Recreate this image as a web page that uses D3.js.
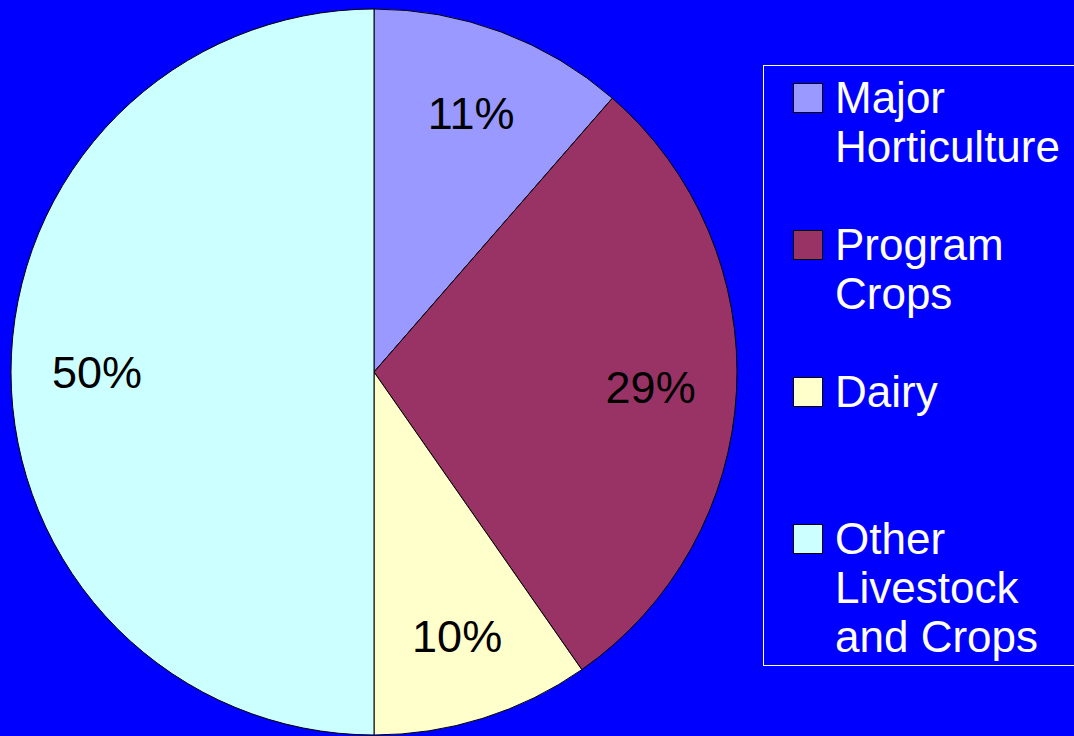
<!DOCTYPE html>
<html>
<head>
<meta charset="utf-8">
<script src="https://cdn.jsdelivr.net/npm/d3@7"></script>
<style>
  html, body { margin: 0; padding: 0; background: #0000ff; overflow: hidden; }
  svg { display: block; }
</style>
</head>
<body>
<div id="chart"></div>
<script>
var svgWidth = 1074;
var svgHeight = 736;

// Data
var categories = ["Major Horticulture", "Program Crops", "Dairy", "Other Livestock and Crops"];
var legendLines = [["Major", "Horticulture"], ["Program", "Crops"], ["Dairy"], ["Other", "Livestock", "and Crops"]];
var shares = [11.4, 28.9, 9.7, 50.0];
var sliceColors = ["#9999ff", "#993366", "#ffffcc", "#ccffff"];

var cx = 374, cy = 372, radius = 363;
var labelRadius = 277;

var svg = d3.select("#chart")
  .append("svg")
  .attr("width", svgWidth)
  .attr("height", svgHeight);

svg.append("rect")
  .attr("width", svgWidth)
  .attr("height", svgHeight)
  .attr("fill", "#0000ff");

var data = categories.map(function(c, i) {
  return { name: c, value: shares[i], lines: legendLines[i] };
});

var color = d3.scaleOrdinal()
  .domain(categories)
  .range(sliceColors);

var pie = d3.pie()
  .sort(null)
  .value(d => d.value);

var arc = d3.arc()
  .innerRadius(0)
  .outerRadius(radius);

var labelArc = d3.arc()
  .innerRadius(labelRadius)
  .outerRadius(labelRadius);

var total = d3.sum(shares);
var pct = d3.format(".0%");

var pieGroup = svg.append("g")
  .attr("transform", `translate(${cx}, ${cy})`);

var arcs = pie(data);

pieGroup.selectAll("path")
  .data(arcs)
  .enter()
  .append("path")
  .attr("d", arc)
  .attr("fill", d => color(d.data.name))
  .attr("stroke", "#000")
  .attr("stroke-width", 1);

pieGroup.selectAll("text")
  .data(arcs)
  .enter()
  .append("text")
  .attr("transform", d => `translate(${labelArc.centroid(d)})`)
  .attr("text-anchor", "middle")
  .attr("dy", "0.36em")
  .attr("font-family", "Liberation Sans, Arial, sans-serif")
  .attr("font-size", "45px")
  .attr("fill", "#000")
  .text(d => pct(d.data.value / total));

// legend
var legend = svg.append("g");

legend.append("rect")
  .attr("x", 763.5)
  .attr("y", 65.5)
  .attr("width", 320)
  .attr("height", 600)
  .attr("fill", "none")
  .attr("stroke", "#ffffff")
  .attr("stroke-width", 1);

var legendY = d3.scalePoint()
  .domain(categories)
  .range([113, 554]);

var items = legend.selectAll("g.item")
  .data(data)
  .enter()
  .append("g")
  .attr("class", "item")
  .attr("transform", d => `translate(0, ${legendY(d.name)})`);

items.append("rect")
  .attr("x", 793.5)
  .attr("y", -29.5)
  .attr("width", 29)
  .attr("height", 29)
  .attr("fill", d => color(d.name))
  .attr("stroke", "#000")
  .attr("stroke-width", 1);

items.append("text")
  .attr("font-family", "Liberation Sans, Arial, sans-serif")
  .attr("font-size", "44px")
  .attr("fill", "#ffffff")
  .selectAll("tspan")
  .data(d => d.lines)
  .enter()
  .append("tspan")
  .attr("x", 835)
  .attr("y", (d, i) => i * 49)
  .text(d => d);
</script>
</body>
</html>
